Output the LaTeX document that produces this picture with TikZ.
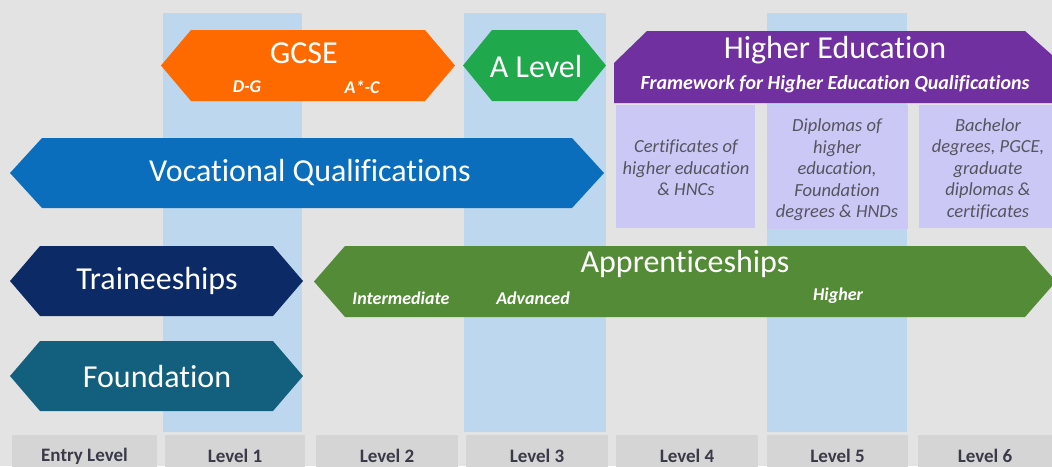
\documentclass[tikz,border=0pt]{standalone}
\usepackage{fontspec}
\setmainfont{Carlito}[Ligatures=NoCommon]
\definecolor{bgc}{HTML}{E3E3E3}
\definecolor{colblue}{HTML}{BDD7EE}
\definecolor{gcsec}{HTML}{FF6A00}
\definecolor{alevc}{HTML}{1FA84C}
\definecolor{purp}{HTML}{7030A0}
\definecolor{lav}{HTML}{CCC8F6}
\definecolor{vocc}{HTML}{0A6EBD}
\definecolor{navyc}{HTML}{0C2A66}
\definecolor{tealc}{HTML}{12607D}
\definecolor{apprc}{HTML}{548B36}
\definecolor{lvlbox}{HTML}{D5D5D5}
\definecolor{lvltxt}{HTML}{3A3A48}
\definecolor{lavtxt}{HTML}{55555F}
\newcommand\hexshape[6]{% color, x1, x2, ytop, ybot, inset
  \fill[#1] (#2,{-(#4+#5)/2}) -- (#2+#6,-#4) -- (#3-#6,-#4) -- (#3,{-(#4+#5)/2}) -- (#3-#6,-#5) -- (#2+#6,-#5) -- cycle;}
\begin{document}
\begin{tikzpicture}[x=1pt,y=1pt,
  bigtxt/.style={text=white,font=\fontsize{32}{34}\selectfont,inner sep=0pt},
  subtxt/.style={text=white,font=\fontsize{18}{20}\selectfont\bfseries\itshape,inner sep=0pt},
  lavtext/.style={text=lavtxt,font=\fontsize{18.5}{21.5}\selectfont\itshape,align=center,inner sep=0pt},
  lvltext/.style={text=lvltxt,font=\fontsize{19}{21}\selectfont\bfseries,inner sep=0pt}]
\fill[bgc] (0,0) rectangle (1052,-466);
\useasboundingbox (0,0) rectangle (1052,-466);
% level columns
\fill[colblue] (163,-13) rectangle (302,-432);
\fill[colblue] (464,-13) rectangle (606,-432);
\fill[colblue] (767,-13) rectangle (907,-432);
% level boxes
\foreach \a/\b/\t/\n in {12/157/Entry Level/e, 165/305/Level 1/l1, 316/458/Level 2/l2, 466/608/Level 3/l3, 616/758/Level 4/l4, 767/908/Level 5/l5, 918/1052/Level 6/l6}{
  \fill[lvlbox] (\a,-435) rectangle (\b,-470);
  \node[lvltext] (lvl\n) at ({(\a+\b)/2},-456) {\t};
}
% GCSE
\hexshape{gcsec}{161}{455}{30}{101}{30}
\node[bigtxt] (gcse) at (304,-53) {GCSE};
\node[subtxt] (dg) at (247,-87) {D-G};
\node[subtxt] (ac) at (362,-87) {A*-C};
% A Level
\hexshape{alevc}{463}{606}{30}{101}{29}
\node[bigtxt] (alevel) at (536,-66) {A Level};
% Higher education
\fill[purp] (614,-103) -- (614,-63) -- (647,-31) -- (1025,-31) -- (1052,-55) -- (1052,-103) -- cycle;
\node[bigtxt] (he) at (835,-50) {Higher Education};
\node[text=white,font=\fontsize{20}{22}\selectfont\itshape,inner sep=0pt] (fheq) at (835,-84) {\textbf{Framework for Higher Education Qualifications}};
\fill[lav] (616,-105) rectangle (755,-228);
\fill[lav] (767,-105) rectangle (908,-229);
\fill[lav] (919,-105) rectangle (1052,-228);
\node[lavtext] (cert) at (686,-168) {Certificates of\\higher education\\\& HNCs};
\node[lavtext] (dipl) at (837,-170) {Diplomas of\\higher\\education,\\Foundation\\degrees \& HNDs};
\node[lavtext] (bach) at (988,-169) {Bachelor\\degrees, PGCE,\\graduate\\diplomas \&\\certificates};
% Vocational
\hexshape{vocc}{10}{604}{138}{208}{32}
\node[bigtxt] (voc) at (310,-173) {Vocational Qualifications};
% Traineeships
\hexshape{navyc}{10}{303}{246}{316}{30}
\node[bigtxt] (train) at (157,-281) {Traineeships};
% Foundation
\hexshape{tealc}{10}{303}{341}{411}{30}
\node[bigtxt] (found) at (157,-377) {Foundation};
% Apprenticeships
\fill[apprc] (314,-281.5) -- (345,-246) -- (1025,-246) -- (1056,-281.5) -- (1025,-317) -- (345,-317) -- cycle;
\node[bigtxt] (appr) at (685,-264) {Apprenticeships};
\node[subtxt] (inter) at (401,-298) {Intermediate};
\node[subtxt] (adv) at (533,-298) {Advanced};
\node[subtxt] (high) at (838,-296) {Higher};
\end{tikzpicture}
\end{document}
